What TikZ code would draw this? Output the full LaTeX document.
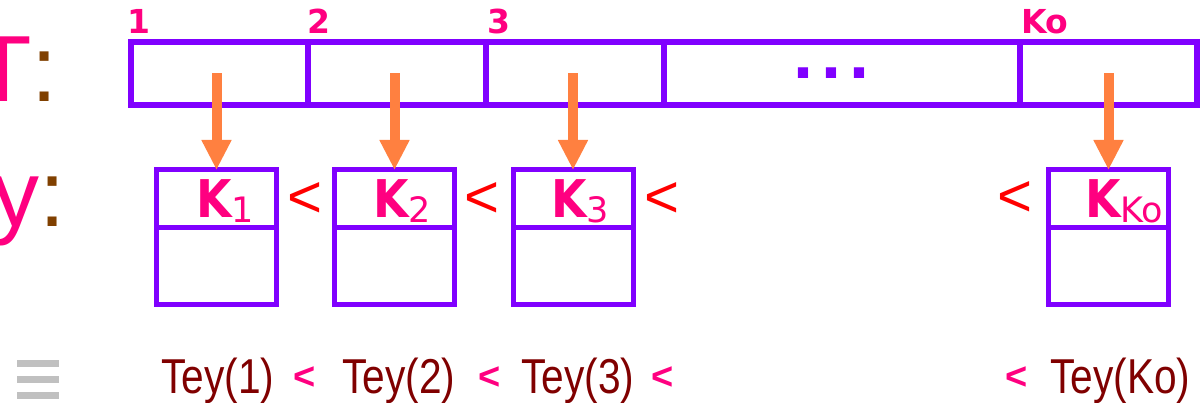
\documentclass[tikz,border=0pt]{standalone}
\usepackage{fontspec}
\setmainfont{Liberation Sans}
\newfontfamily\narrowsans[FakeStretch=0.83]{Liberation Sans}
\newfontfamily\kfont[FakeStretch=0.88]{DejaVu Sans}
\newfontfamily\idxfont{DejaVu Sans}
\usetikzlibrary{arrows.meta}

\definecolor{keypink}{HTML}{FF0080}
\definecolor{boxpurple}{HTML}{8000FF}
\definecolor{arrorange}{HTML}{FF8040}
\definecolor{colonbrown}{HTML}{804000}
\definecolor{teyred}{HTML}{800000}
\definecolor{ltred}{HTML}{FF0000}
\definecolor{bargray}{HTML}{C0C0C0}

\newcommand{\px}[1]{\fontsize{#1}{#1}\selectfont}
\newcommand{\ksub}[1]{\raisebox{-5pt}{\idxfont\mdseries\px{35}#1}}

\begin{document}
\begin{tikzpicture}[x=1pt,y=-1pt,
  cell/.style={draw=boxpurple, line width=5.5pt, inner sep=0pt, outer sep=0pt, minimum height=63pt},
  kcell/.style={draw=boxpurple, line width=5pt, inner sep=0pt, outer sep=0pt, minimum width=120pt},
  link/.style={draw=arrorange, line width=10pt, -{Triangle[width=28pt,length=30pt]}},
  idx/.style={inner sep=0pt, text=keypink, font=\idxfont\bfseries\px{33}, anchor=base west},
  klabel/.style={inner sep=0pt, text=keypink, font=\kfont\bfseries\px{52}, anchor=base west},
  ltmid/.style={inner sep=0pt, text=ltred, font=\px{60}},
  ltlow/.style={inner sep=0pt, text=keypink, font=\bfseries\px{38}},
  tey/.style={inner sep=0pt, text=teyred, font=\narrowsans\px{49}, anchor=base west},
  big/.style={inner sep=0pt, font=\px{94}, anchor=base west}]
\useasboundingbox (0,0) rectangle (1201,403);
\clip (0,0) rectangle (1201,403);

% row labels at the left edge
\node[big] (rowT) at (-26,102) {\textcolor{keypink}{T}\textcolor{colonbrown}{:}};
\node[big] (rowY) at (-8,227) {\textcolor{keypink}{y}\textcolor{colonbrown}{:}};

% upper array of cells
\node[cell, minimum width=177pt] (c1) at (219.5,73.5) {};
\node[cell, minimum width=178pt] (c2) at (397,73.5) {};
\node[cell, minimum width=178pt] (c3) at (575,73.5) {};
\node[cell, minimum width=356pt] (cd) at (842,73.5) {};
\node[cell, minimum width=177pt] (ck) at (1108.5,73.5) {};
\node[inner sep=0pt, text=boxpurple, font=\bfseries\px{72}] (dots) at (831,73.5) {.\hspace{8pt}.\hspace{8pt}.};

% cell indices
\node[idx] (i1) at ([xshift=-4pt,yshift=8pt]c1.north west) {1};
\node[idx] (i2) at ([xshift=-1pt,yshift=8pt]c2.north west) {2};
\node[idx] (i3) at ([xshift=1pt,yshift=8pt]c3.north west) {3};
\node[idx] (ik) at ([xshift=1pt,yshift=8pt]ck.north west) {K\kern-1pt o};

% key boxes
\node[kcell, minimum height=58pt] (k1a) at (216.5,199) {};
\node[kcell, minimum height=76pt] (k1b) at (216.5,266) {};
\node[kcell, minimum height=58pt] (k2a) at (394.5,199) {};
\node[kcell, minimum height=76pt] (k2b) at (394.5,266) {};
\node[kcell, minimum height=58pt] (k3a) at (573,199) {};
\node[kcell, minimum height=76pt] (k3b) at (573,266) {};
\node[kcell, minimum height=58pt] (k4a) at (1108.5,199) {};
\node[kcell, minimum height=76pt] (k4b) at (1108.5,266) {};

% key names
\node[klabel] (l1) at (196,218) {K\ksub{1}};
\node[klabel] (l2) at (373,218) {K\ksub{2}};
\node[klabel] (l3) at (551,218) {K\ksub{3}};
\node[klabel] (l4) at (1085,218) {K\ksub{Ko}};

% ordering signs between the boxes
\node[ltmid] (o1) at (305,200) {<};
\node[ltmid] (o2) at (482,200) {<};
\node[ltmid] (o3) at (662,200) {<};
\node[ltmid] (o4) at (1015,199) {<};

% pointers from cells to keys
\draw[link] (k1a.north |- c1.center) -- (k1a.north);
\draw[link] (k2a.north |- c2.center) -- (k2a.north);
\draw[link] (k3a.north |- c3.center) -- (k3a.north);
\draw[link] (k4a.north |- ck.center) -- (k4a.north);

% equivalence sign
\fill[bargray] (17,360) rectangle (59,367);
\fill[bargray] (17,376) rectangle (59,383);
\fill[bargray] (17,392) rectangle (59,399);

% bottom chain
\node[tey] (t1) at (161,393) {Tey(1)};
\node[tey] (t2) at (342,393) {Tey(2)};
\node[tey] (t3) at (521,393) {Tey(3)};
\node[tey] (t4) at (1050,393) {Tey(Ko)};
\node[ltlow] (b1) at (305,378) {<};
\node[ltlow] (b2) at (490,378) {<};
\node[ltlow] (b3) at (663,378) {<};
\node[ltlow] (b4) at (1017,378) {<};
\end{tikzpicture}
\end{document}
